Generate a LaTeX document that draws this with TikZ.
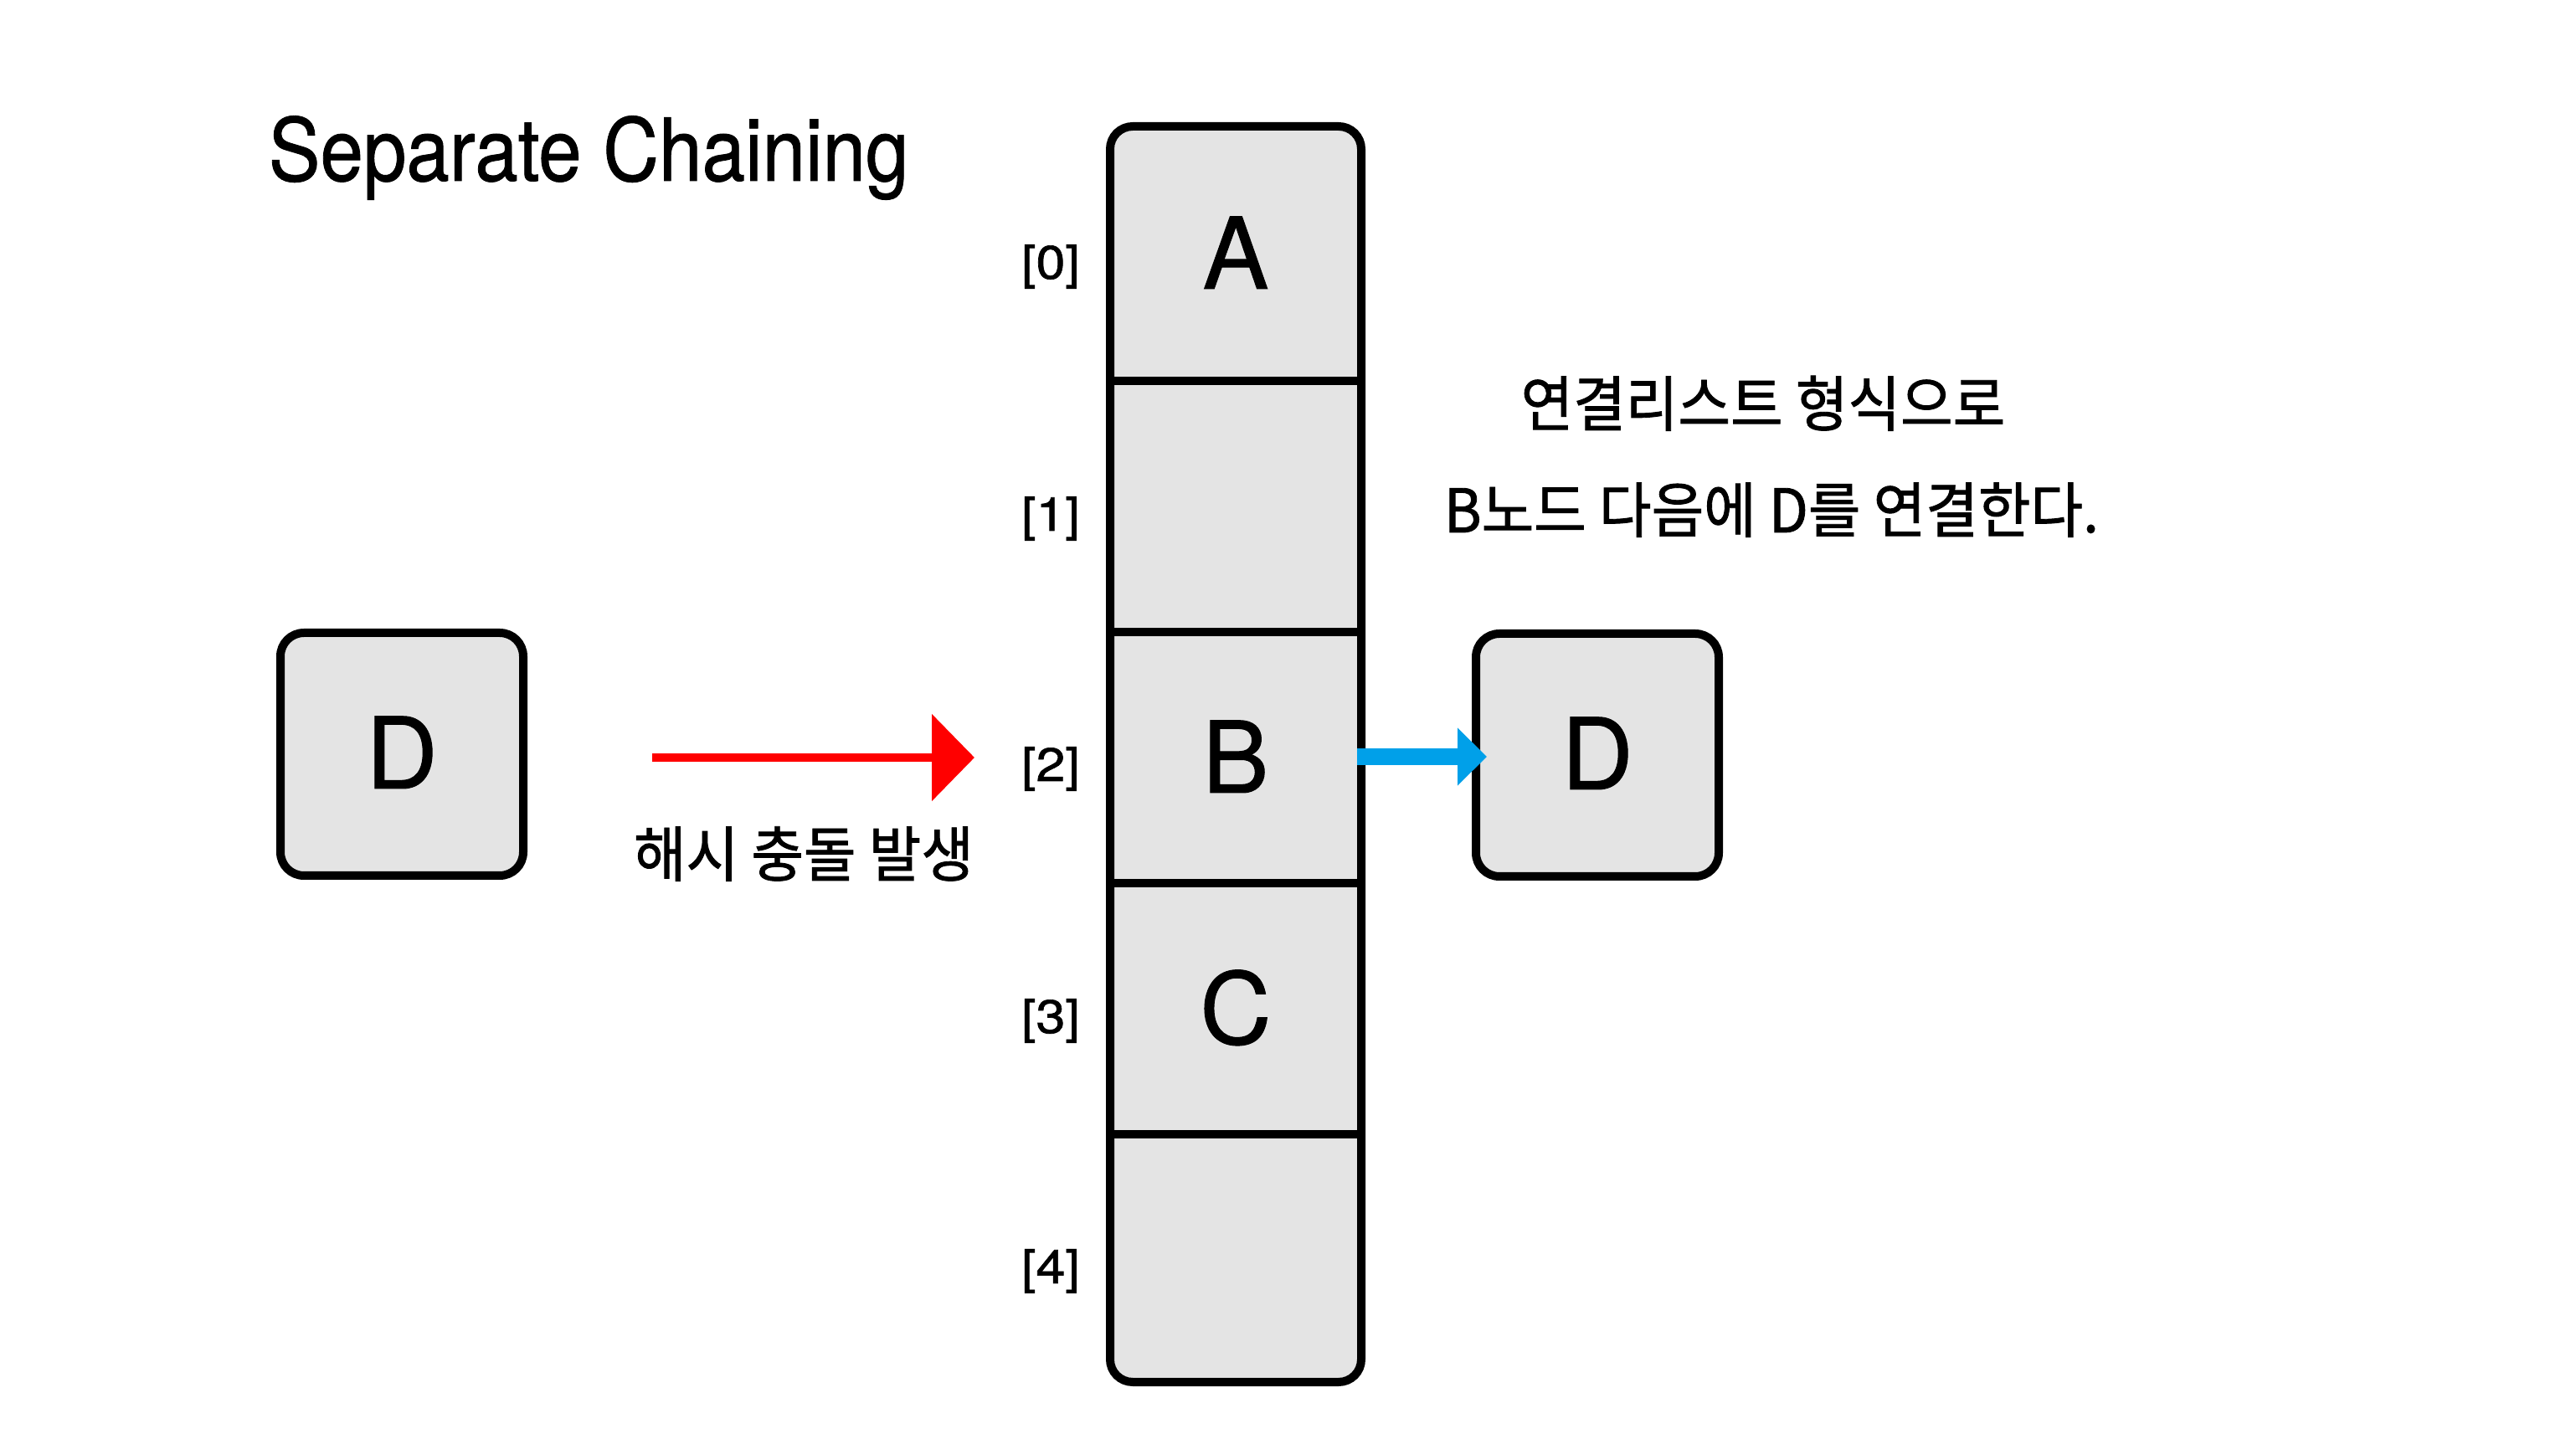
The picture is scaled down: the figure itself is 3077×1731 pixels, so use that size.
\documentclass[tikz,border=0pt]{standalone}
\usepackage{fontspec}
\setmainfont{TeX Gyre Heros}
\newfontfamily\kr[FakeStretch=0.945,FakeBold=1.2]{Noto Sans CJK KR}
\newfontfamily\ttl[FakeStretch=0.89,FakeBold=0.8]{TeX Gyre Heros}
\newfontfamily\ltr[FakeBold=0.8]{TeX Gyre Heros}
\newfontfamily\idf[FakeStretch=1.12,FakeBold=1.2]{TeX Gyre Heros}
\usetikzlibrary{arrows.meta}
\definecolor{cellgray}{HTML}{E4E4E4}
\definecolor{arrred}{HTML}{FF0000}
\definecolor{arrblue}{HTML}{00A0E9}
\begin{document}
\begin{tikzpicture}[x=0.25pt,y=-0.25pt,
  box/.style={draw=black,fill=cellgray,line width=2.5pt,rounded corners=7pt,
    minimum width=72.5pt,minimum height=72.5pt,inner sep=0pt,outer sep=0pt},
  arr/.style={draw=black,fill=cellgray,line width=2.5pt,rounded corners=6.75pt,
    minimum width=75pt,minimum height=375pt,inner sep=0pt,outer sep=0pt},
  cell/.style={minimum width=75pt,minimum height=75pt,inner sep=0pt,outer sep=0pt},
  letter/.style={font=\ltr\fontsize{29.6pt}{34pt}\selectfont,inner sep=0pt,anchor=base},
  idx/.style={font=\idf\fontsize{14pt}{16pt}\selectfont,inner sep=0pt,anchor=base},
  krtext/.style={font=\kr\fontsize{18pt}{22pt}\selectfont,inner sep=0pt,anchor=base},
  divider/.style={line width=2.5pt,black}
]
\useasboundingbox (0,0) rectangle (3077,1731);
\fill[white] (0,0) rectangle (3077,1731);

% title
\node[font=\ttl\fontsize{26pt}{30pt}\selectfont,inner sep=0pt,anchor=base west] (title) at (320,216) {Separate Chaining};

% array
\node[arr] (array) at (1476,901) {};
\node[cell] (c0) at (1476,303) {};
\node[cell] (c1) at (1476,605) {};
\node[cell] (c2) at (1476,905) {};
\node[cell] (c3) at (1476,1205) {};
\node[cell] (c4) at (1476,1503) {};
\draw[divider] (1326,455) -- (1626,455);
\draw[divider] (1326,755) -- (1626,755);
\draw[divider] (1326,1055) -- (1626,1055);
\draw[divider] (1326,1355) -- (1626,1355);

\node[letter] (lA) at (1476,345) {A};
\node[letter] (lB) at (1476,947) {B};
\node[letter] (lC) at (1476,1247) {C};

% index labels
\node[idx] (i0) at (1255,333) {[0]};
\node[idx] (i1) at (1255,634) {[1]};
\node[idx] (i2) at (1255,933) {[2]};
\node[idx] (i3) at (1255,1234) {[3]};
\node[idx] (i4) at (1255,1533) {[4]};

% D boxes
\node[box] (Dl) at (480,901) {};
\node[letter] (lDl) at (480,942) {D};
\node[box] (Dr) at (1908,902) {};
\node[letter] (lDr) at (1908,943) {D};

% red arrow
\coordinate (r1) at (779,905);
\coordinate (r2) at (1164,905);
\draw[arrred,line width=2.5pt,-{Triangle[length=12.75pt,width=25.5pt]}] (r1) -- (r2);
\node[krtext] (collide) at (960,1047) {해시 충돌 발생};

% blue arrow
\draw[arrblue,line width=5pt,-{Triangle[length=8.75pt,width=16.75pt]},shorten >=-3.25pt,shorten <=-1.25pt]
  (c2.east |- 0,904) -- (Dr.west |- 0,904);

% explanation
\node[krtext] (ex1) at (2106,509) {연결리스트 형식으로};
\node[krtext] (ex2) at (2116,636) {B노드 다음에 D를 연결한다.};
\end{tikzpicture}
\end{document}
